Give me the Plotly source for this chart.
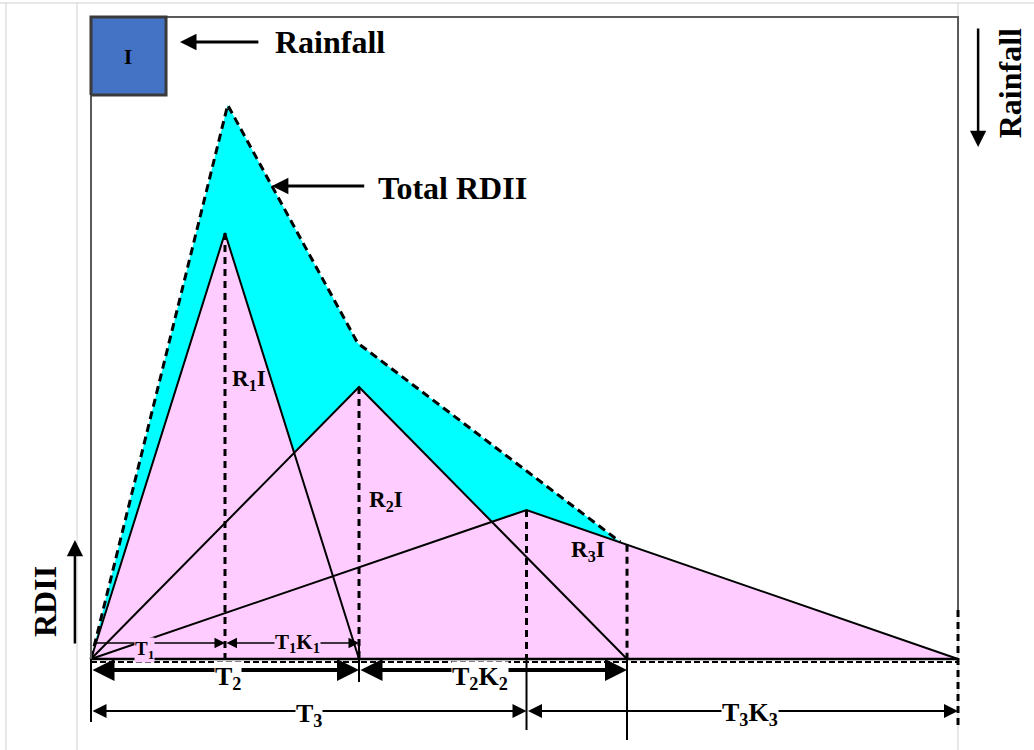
import plotly.graph_objects as go

# ---- data (time units, RDII units) ----
t_peak = [1.0, 2.0, 3.25]          # T1, T2, T3
t_end = [2.0, 4.0, 6.47]           # T1(1+K1), T2(1+K2), T3(1+K3)
r_peak = [4.26, 2.72, 1.49]        # R1I, R2I, R3I
t_total = [0, 1.02, 1.99, 3.95, 6.47]
v_total = [0, 5.54, 3.16, 1.17, 0]
rain_t = [0, 0.56]
rain_v = [5.64, 6.42]
tri_labels = ["R<sub>1</sub>I", "R<sub>2</sub>I", "R<sub>3</sub>I"]

FONT = "Liberation Serif"
PINK = "#FFCCFF"
CYAN = "#00FFFF"

fig = go.Figure()

# total RDII area (cyan)
fig.add_trace(go.Scatter(x=t_total, y=v_total, fill="toself", fillcolor=CYAN,
                         mode="lines", line=dict(width=0), hoverinfo="skip"))
# unit hydrograph triangles (pink fill)
for tp, te, rp in zip(t_peak, t_end, r_peak):
    fig.add_trace(go.Scatter(x=[0, tp, te, 0], y=[0, rp, 0, 0], fill="toself",
                             fillcolor=PINK, mode="lines", line=dict(width=0),
                             hoverinfo="skip"))
# triangle outlines
for tp, te, rp in zip(t_peak, t_end, r_peak):
    fig.add_trace(go.Scatter(x=[0, tp, te], y=[0, rp, 0], mode="lines",
                             line=dict(color="black", width=2), hoverinfo="skip"))
# vertical dashed lines at peaks
for tp, rp in zip(t_peak, r_peak):
    fig.add_trace(go.Scatter(x=[tp, tp], y=[rp, 0], mode="lines",
                             line=dict(color="black", width=3, dash="7px,5px"),
                             hoverinfo="skip"))
# dashed at end of R2 up to R3 line
r3_at = r_peak[2] * (t_end[2] - t_end[1]) / (t_end[2] - t_peak[2])
fig.add_trace(go.Scatter(x=[t_end[1], t_end[1]], y=[r3_at, 0], mode="lines",
                         line=dict(color="black", width=3, dash="7px,5px"), hoverinfo="skip"))
# total RDII dashed line
fig.add_trace(go.Scatter(x=t_total[:4], y=v_total[:4], mode="lines",
                         line=dict(color="black", width=3, dash="8px,5px"), hoverinfo="skip"))
# baseline
fig.add_trace(go.Scatter(x=[0, t_end[2]], y=[0, 0], mode="lines",
                         line=dict(color="black", width=2.5), hoverinfo="skip"))
fig.add_trace(go.Scatter(x=[0, t_end[2]], y=[-0.03, -0.03], mode="lines",
                         line=dict(color="black", width=2, dash="6px,3px"), hoverinfo="skip"))
# extension lines for dimensions
ext = [(0, 0, -0.63, "solid"), (t_end[0], 0.2, -0.23, "solid"),
       (t_peak[2], 0, -0.71, "solid"), (t_end[1], 0, -0.81, "solid"),
       (t_end[2], 0.49, -0.71, "7px,5px")]
for xx, y0, y1, d in ext:
    fig.add_trace(go.Scatter(x=[xx, xx], y=[y0, y1], mode="lines",
                             line=dict(color="black", width=2 if d == "solid" else 3, dash=d),
                             hoverinfo="skip"))
# plot frame
fig.add_trace(go.Scatter(x=[0, 0, t_end[2], t_end[2]], y=[0, rain_v[1], rain_v[1], 0.49],
                         mode="lines", line=dict(color="#5a5a5a", width=2), hoverinfo="skip"))
# rainfall block
fig.add_trace(go.Scatter(x=[rain_t[0], rain_t[1], rain_t[1], rain_t[0], rain_t[0]],
                         y=[rain_v[0], rain_v[0], rain_v[1], rain_v[1], rain_v[0]],
                         fill="toself", fillcolor="#4472C4", mode="lines",
                         line=dict(color="#3a3a3a", width=3), hoverinfo="skip"))

ann = []
def txt(x, y, s, size, angle=0, bg=None):
    d = dict(x=x, y=y, text="<b>" + s + "</b>", showarrow=False, textangle=angle,
             font=dict(family=FONT, size=size, color="black"), xref="x", yref="y")
    if bg:
        d["bgcolor"] = bg
        d["borderpad"] = 0
    ann.append(d)

def arrow(x0, y0, x1, y1, width, size=1.0, both=False, head=2):
    ann.append(dict(x=x1, y=y1, ax=x0, ay=y0, xref="x", yref="y", axref="x", ayref="y",
                    text="", showarrow=True, arrowhead=head, arrowsize=size,
                    arrowwidth=width, arrowcolor="black", standoff=0, startstandoff=0,
                    arrowside="end+start" if both else "end", startarrowhead=head,
                    startarrowsize=size))

txt(0.276, 6.02, "I", 21)
arrow(1.26, 6.17, 0.664, 6.17, 3, 1.1)
txt(1.78, 6.17, "Rainfall", 32)
arrow(2.05, 4.73, 1.35, 4.73, 3, 1.1)
txt(2.70, 4.71, "Total RDII", 32)
arrow(6.62, 6.32, 6.62, 5.12, 2.5, 1.3)
txt(6.86, 5.76, "Rainfall", 32, angle=-90)
arrow(-0.12, 0.14, -0.12, 1.19, 2.5, 1.3)
txt(-0.343, 0.57, "RDII", 32, angle=-90)

txt(1.18, 2.79, tri_labels[0], 23)
txt(2.20, 1.58, tri_labels[1], 23)
txt(3.71, 1.08, tri_labels[2], 23)

# dimension arrows
arrow(0.02, 0.16, t_peak[0], 0.16, 1.5, 1.4)
txt(0.40, 0.09, "T<sub>1</sub>", 19, bg=PINK)
arrow(t_peak[0], 0.16, t_end[0], 0.16, 1.5, 1.4, both=True)
txt((t_peak[0] + t_end[0]) / 2 + 0.04, 0.16, "T<sub>1</sub>K<sub>1</sub>", 21, bg=PINK)
arrow(0, -0.11, t_peak[1], -0.11, 4, 1.1, both=True)
txt(t_peak[1] / 2 + 0.02, -0.19, "T<sub>2</sub>", 26, bg="white")
arrow(t_peak[1], -0.11, t_end[1], -0.11, 4, 1.1, both=True)
txt((t_peak[1] + t_end[1]) / 2 - 0.1, -0.19, "T<sub>2</sub>K<sub>2</sub>", 26, bg="white")
arrow(0, -0.52, t_peak[2], -0.52, 2, 1.4, both=True)
txt(t_peak[2] / 2, -0.56, "T<sub>3</sub>", 26, bg="white")
arrow(t_peak[2], -0.52, t_end[2], -0.52, 2, 1.4, both=True)
txt((t_peak[2] + t_end[2]) / 2 + 0.06, -0.55, "T<sub>3</sub>K<sub>3</sub>", 26, bg="white")

# page frame lines (light gray)
W, H = 1034, 750
shapes = []
for px in [6, 77, 958]:
    shapes.append(dict(type="line", xref="paper", yref="paper", x0=px / W, x1=px / W,
                       y0=0, y1=1 - 3 / H, line=dict(color="#d0d0d0", width=1), layer="below"))
shapes.append(dict(type="line", xref="paper", yref="paper", x0=0, x1=1,
                   y0=1 - 3 / H, y1=1 - 3 / H, line=dict(color="#d0d0d0", width=1), layer="below"))

fig.update_layout(
    width=W, height=H, margin=dict(l=0, r=0, t=0, b=0),
    paper_bgcolor="white", plot_bgcolor="white", showlegend=False,
    xaxis=dict(range=[-0.679, 7.037], visible=False, fixedrange=True),
    yaxis=dict(range=[-0.91, 6.59], visible=False, fixedrange=True),
    annotations=ann, shapes=shapes,
)
fig.write_html("out.html", config={"displayModeBar": False},
               post_script="document.body.style.margin='0';document.body.style.overflow='hidden';")
